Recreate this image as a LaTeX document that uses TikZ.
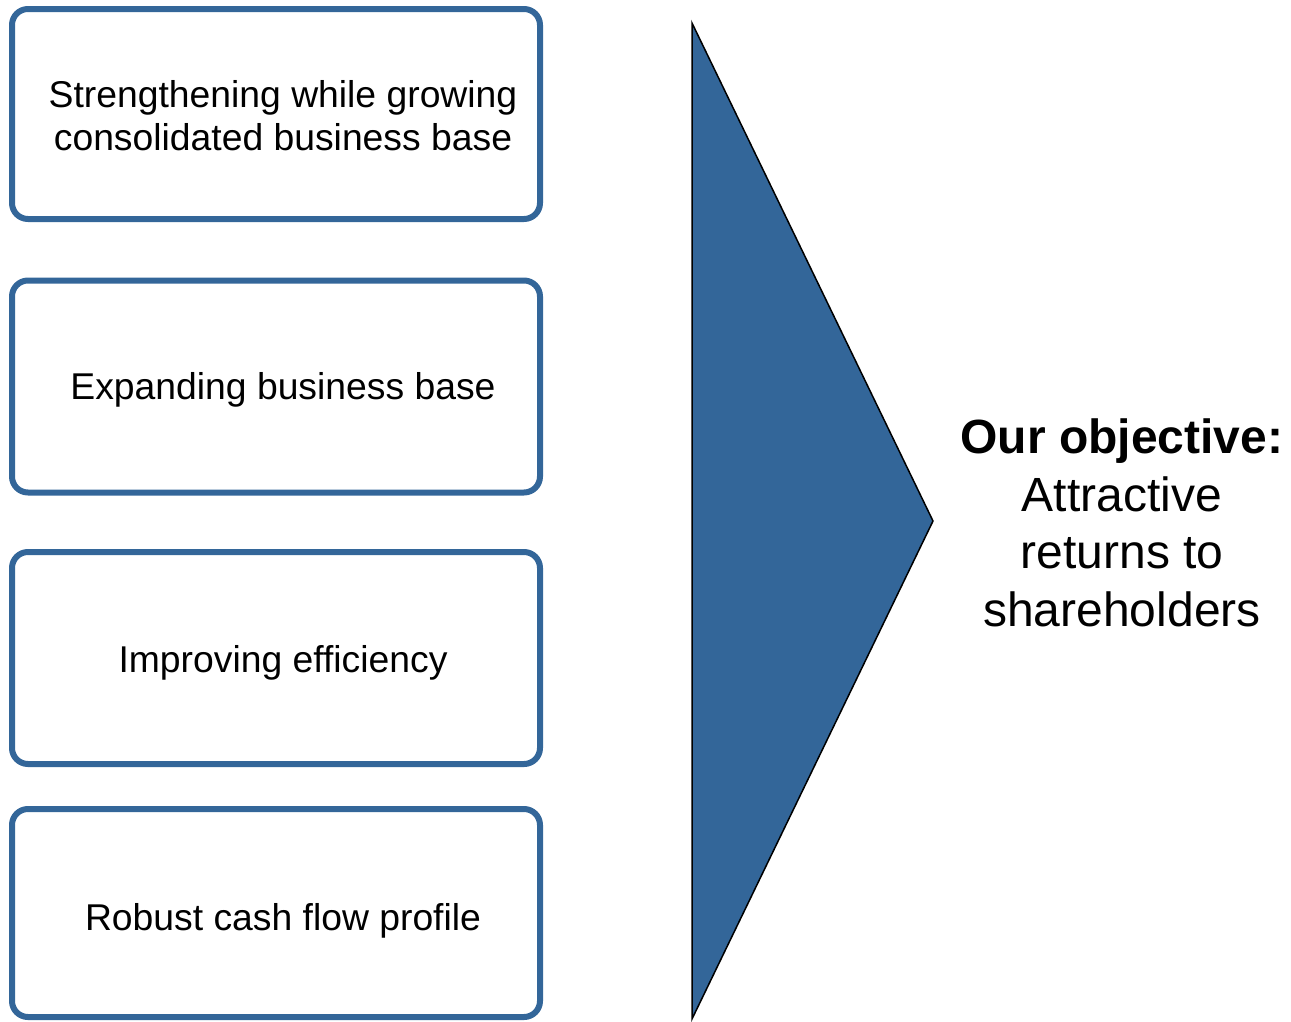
\documentclass[tikz,border=0pt]{standalone}
\usepackage{fontspec}
\setmainfont{Liberation Sans}
\usetikzlibrary{positioning}
\definecolor{boxblue}{RGB}{51,102,153}
\begin{document}
\begin{tikzpicture}[x=1pt,y=-1pt,
  goalbox/.style={draw=boxblue,line width=6pt,rounded corners=16pt,minimum width=528pt},
  boxlabel/.style={align=center,font=\fontsize{37.3}{43}\selectfont},
  goaltext/.style={align=center,font=\fontsize{48}{57.5}\selectfont}]
\useasboundingbox (0,0) rectangle (1291,1021);
\node[goalbox,minimum height=210pt] (base) at (276,114) {};
\node[goalbox,minimum height=212pt] (expand) at (276,386.5) {};
\node[goalbox,minimum height=212pt] (effic) at (276,658) {};
\node[goalbox,minimum height=208pt] (cash) at (276,913) {};
\node[boxlabel] (basetext) at (283,116) {Strengthening while growing\\consolidated business base};
\node[boxlabel] (expandtext) at (283,389.5) {Expanding business base};
\node[boxlabel] (effictext) at (283,663) {Improving efficiency};
\node[boxlabel] (cashtext) at (283,921) {Robust cash flow profile};
\coordinate (top) at (692,23);
\coordinate (bottom) at (692,1019);
\coordinate (tip) at (933,521);
\draw[fill=boxblue,line width=1.5pt,line join=miter] (top)--(tip)--(bottom)--cycle;
\node[goaltext] (goal) at (1122,523) {\textbf{Our objective:}\\Attractive\\returns to\\shareholders};
\end{tikzpicture}
\end{document}
